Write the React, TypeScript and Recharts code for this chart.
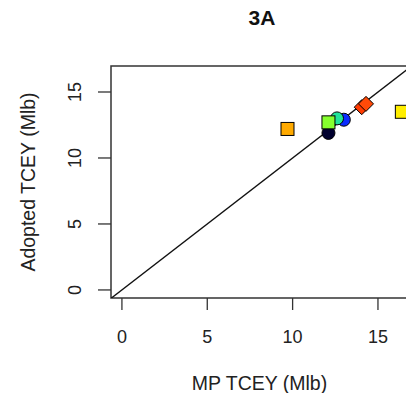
import {
  ScatterChart,
  Scatter,
  XAxis,
  YAxis,
  ReferenceLine,
  ReferenceArea,
  Label,
} from "recharts";

// MP TCEY vs adopted TCEY, one marker per year
const mpTcey = [12.1, 13.0, 12.6, 12.1, 14.05, 14.3, 9.7, 16.4];
const adoptedTcey = [11.9, 12.9, 13.0, 12.7, 13.85, 14.1, 12.2, 13.5];
const markerShapes = ["circle", "circle", "circle", "square", "diamond", "diamond", "square", "square"];
const markerColors = ["#00002e", "#0a2cff", "#1fe39a", "#86ff2e", "#ff3a00", "#ff4a08", "#ffaa00", "#ffee00"];

const xTicks = [0, 5, 10, 15];
const yTicks = [0, 5, 10, 15];
const xDomain = [-0.64, 16.76];
const yDomain = [-0.61, 16.97];
const identity = [-1, 18];

const points = mpTcey.map((x, i) => ({
  x,
  y: adoptedTcey[i],
  shape: markerShapes[i],
  color: markerColors[i],
}));

const FONT = "'Liberation Sans', Arial, Helvetica, sans-serif";
const INK = "#333333";

const Marker = (props: any) => {
  const { cx, cy, payload } = props;
  if (cx == null || cy == null) return null;
  const fill = payload.color;
  if (payload.shape === "square") {
    return <rect x={cx - 6.5} y={cy - 6.5} width={13} height={13} fill={fill} stroke="#000" strokeWidth={1} />;
  }
  if (payload.shape === "diamond") {
    const r = 7.5;
    return (
      <polygon
        points={`${cx},${cy - r} ${cx + r},${cy} ${cx},${cy + r} ${cx - r},${cy}`}
        fill={fill}
        stroke="#000"
        strokeWidth={1}
      />
    );
  }
  return <circle cx={cx} cy={cy} r={6.5} fill={fill} stroke="#000" strokeWidth={1} />;
};

const YTick = (props: any) => {
  const { x, y, payload } = props;
  const tx = x - 21;
  return (
    <text
      x={tx}
      y={y}
      transform={`rotate(-90, ${tx}, ${y})`}
      textAnchor="middle"
      dy="0.35em"
      fontSize={18}
      fontFamily={FONT}
      fill="#222"
    >
      {payload.value}
    </text>
  );
};

export default function App() {
  return (
    <div
      style={{
        position: "absolute",
        left: 0,
        top: 0,
        width: 406,
        height: 393,
        overflow: "hidden",
        background: "#fff",
      }}
    >
      <div
        style={{
          position: "absolute",
          left: 212,
          top: 6,
          width: 100,
          textAlign: "center",
          fontFamily: FONT,
          fontWeight: "bold",
          fontSize: 21,
          lineHeight: "24px",
          color: "#111",
        }}
      >
        3A
      </div>
      <ScatterChart width={412} height={393} margin={{ top: 66, right: 4, bottom: 0, left: 0 }}>
        <XAxis
          type="number"
          dataKey="x"
          domain={xDomain}
          ticks={xTicks}
          allowDataOverflow
          height={95}
          axisLine={false}
          tickSize={12}
          tickMargin={20}
          tickLine={{ stroke: INK, strokeWidth: 1.3 }}
          tick={{ fontSize: 18, fontFamily: FONT, fill: "#222" }}
        >
          <Label
            content={(p: any) => {
              const vb = p.viewBox;
              return (
                <text
                  x={vb.x + vb.width / 2}
                  y={383}
                  textAnchor="middle"
                  dy="0.35em"
                  fontSize={19.5}
                  fontFamily={FONT}
                  fill="#222"
                >
                  MP TCEY (Mlb)
                </text>
              );
            }}
          />
        </XAxis>
        <YAxis
          type="number"
          dataKey="y"
          domain={yDomain}
          ticks={yTicks}
          allowDataOverflow
          width={111}
          axisLine={false}
          tickSize={13}
          tickLine={{ stroke: INK, strokeWidth: 1.3 }}
          tick={<YTick />}
        >
          <Label
            content={(p: any) => {
              const vb = p.viewBox;
              const cy = vb.y + vb.height / 2;
              return (
                <text
                  x={28}
                  y={cy}
                  transform={`rotate(-90, 28, ${cy})`}
                  textAnchor="middle"
                  dy="0.35em"
                  fontSize={19.5}
                  fontFamily={FONT}
                  fill="#222"
                >
                  Adopted TCEY (Mlb)
                </text>
              );
            }}
          />
        </YAxis>
        <ReferenceArea
          x1={xDomain[0]}
          x2={xDomain[1]}
          y1={yDomain[0]}
          y2={yDomain[1]}
          fill="none"
          stroke={INK}
          strokeWidth={1.5}
          ifOverflow="visible"
        />
        <ReferenceLine
          segment={[
            { x: identity[0], y: identity[0] },
            { x: identity[1], y: identity[1] },
          ]}
          stroke="#111"
          strokeWidth={1.3}
          ifOverflow="hidden"
        />
        <Scatter data={points} shape={<Marker />} isAnimationActive={false} />
      </ScatterChart>
    </div>
  );
}
